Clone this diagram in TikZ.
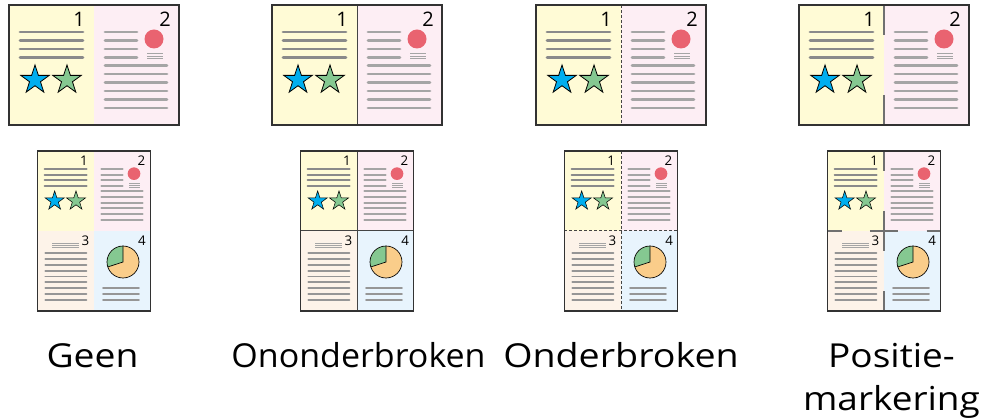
\documentclass[tikz,border=0pt]{standalone}
\usepackage{fontspec}
\setmainfont{Open Sans}
\definecolor{pyel}{RGB}{255,251,214}
\definecolor{ppink}{RGB}{253,238,244}
\definecolor{ppeach}{RGB}{253,243,233}
\definecolor{pblue}{RGB}{232,244,253}
\definecolor{dline}{RGB}{138,138,138}
\definecolor{lline}{RGB}{165,165,165}
\definecolor{mline}{RGB}{150,150,150}
\definecolor{cred}{RGB}{233,99,112}
\definecolor{cblue}{RGB}{0,174,239}
\definecolor{cgreen}{RGB}{133,200,145}
\definecolor{corange}{RGB}{250,205,138}
\definecolor{cborder}{RGB}{50,50,50}
\definecolor{csplit}{RGB}{68,68,68}
\definecolor{cmark}{RGB}{112,112,112}
\tikzset{
  numtext/.style={anchor=base east, inner sep=0pt, transform shape, font=\fontsize{20}{24}\selectfont},
  lbltext/.style={anchor=base, inner sep=0pt, font=\fontsize{33}{40}\selectfont},
  sheetborder/.style={draw=cborder, line width=1.5pt},
  solidsplit/.style={draw=csplit, line width=1pt},
  dashsplit/.style={draw=csplit, line width=1pt, dash pattern=on 3pt off 2pt},
  marksplit/.style={draw=cmark, line width=2pt}
}
\newcommand\starshape[4]{%
  \begin{scope}[shift={(#1,#2)}]
    \draw[fill=#3, line width={#4*0.8pt}, line join=miter]
      (-90:15) -- (-54:5.73) -- (-18:15) -- (18:5.73) -- (54:15) -- (90:5.73)
      -- (126:15) -- (162:5.73) -- (198:15) -- (234:5.73) -- cycle;
  \end{scope}}
\newcommand\pgA[2]{%
  \fill[pyel] (0,0) rectangle (85,120);
  \foreach \yy in {27,35.5,44,52.5}{\draw[dline,line cap=round,line width={#2*2.8pt}] (11,\yy) -- (74,\yy);}
  \starshape{26}{75}{cblue}{#2}
  \starshape{58}{75}{cgreen}{#2}
  \node[numtext] (#1n) at (76,22) {1};}
\newcommand\pgB[2]{%
  \fill[ppink] (0,0) rectangle (85,120);
  \foreach \yy in {27,35.5,44,52.5}{\draw[lline,line cap=round,line width={#2*2.8pt}] (11,\yy) -- (43,\yy);}
  \fill[cred] (60,34) circle[radius=9.5];
  \foreach \yy in {48.8,51.3,53.8}{\draw[lline,line width={#2*0.9pt}] (53,\yy) -- (69,\yy);}
  \foreach \yy in {60.5,69,77.5,86,94.5,103}{\draw[lline,line cap=round,line width={#2*2.8pt}] (11,\yy) -- (73,\yy);}
  \node[numtext] (#1n) at (77,22) {2};}
\newcommand\pgC[2]{%
  \fill[ppeach] (0,0) rectangle (85,120);
  \foreach \yy in {19,22,25}{\draw[lline,line width={#2*1.2pt}] (22,\yy) -- (63,\yy);}
  \foreach \yy in {33,41.8,50.6,59.4,68.2,77,85.8,94.6,103.4}{\draw[mline,line cap=round,line width={#2*2.8pt}] (12,\yy) -- (73.5,\yy);}
  \node[numtext] (#1n) at (78,22) {3};}
\newcommand\pgD[2]{%
  \fill[pblue] (0,0) rectangle (85,120);
  \begin{scope}[shift={(43.5,46.5)}]
    \fill[corange] (0,0) circle[radius=24];
    \fill[cgreen] (0,0) -- (-90:24) arc[start angle=-90,end angle=-198,radius=24] -- cycle;
    \draw[line width={#2*1pt}] (-90:24) -- (0,0) -- (-198:24);
    \draw[line width={#2*1pt}] (0,0) circle[radius=24];
  \end{scope}
  \foreach \yy in {85.5,94.5,103}{\draw[mline,line cap=round,line width={#2*2.8pt}] (13.5,\yy) -- (67.5,\yy);}
  \node[numtext] (#1n) at (78,22) {4};}
\newcommand\sheetpair[2]{%
  \begin{scope}[shift={(#1-85,5)}]\pgA{#2tA}{1}\end{scope}
  \begin{scope}[shift={(#1,5)}]\pgB{#2tB}{1}\end{scope}
  \begin{scope}[shift={(#1-56.667,151)},scale=0.66667]\pgA{#2bA}{0.66667}\end{scope}
  \begin{scope}[shift={(#1,151)},scale=0.66667]\pgB{#2bB}{0.66667}\end{scope}
  \begin{scope}[shift={(#1-56.667,231)},scale=0.66667]\pgC{#2bC}{0.66667}\end{scope}
  \begin{scope}[shift={(#1,231)},scale=0.66667]\pgD{#2bD}{0.66667}\end{scope}}
\begin{document}
\begin{tikzpicture}[x=1pt,y=-1pt]
\useasboundingbox (0,0) rectangle (981,419);
\fill[white] (0,0) rectangle (981,419);
% sheets
\sheetpair{94}{s1}
\sheetpair{357}{s2}
\sheetpair{621}{s3}
\sheetpair{884}{s4}
% split lines
\draw[solidsplit] (357,5) -- (357,125);
\draw[solidsplit] (357,151) -- (357,311);
\draw[solidsplit] (300.333,231) -- (413.667,231);
\draw[dashsplit] (621,5) -- (621,125);
\draw[dashsplit] (621,151) -- (621,311);
\draw[dashsplit] (564.333,231) -- (677.667,231);
\draw[marksplit] (884,5) -- (884,35);
\draw[marksplit] (884,95) -- (884,125);
\draw[marksplit] (884,151) -- (884,171);
\draw[marksplit] (884,211) -- (884,251);
\draw[marksplit] (884,291) -- (884,311);
\draw[marksplit] (827.333,231) -- (841.5,231);
\draw[marksplit] (869.8,231) -- (898.2,231);
\draw[marksplit] (926.5,231) -- (940.667,231);
% borders
\foreach \cx in {94,357,621,884}{
  \draw[sheetborder] (\cx-85,5) rectangle (\cx+85,125);
  \draw[sheetborder] (\cx-56.667,151) rectangle (\cx+56.667,311);
}
% labels
\node[lbltext] (l1) at (92.5,367) {\scalebox{1.13}[1]{Geen}};
\node[lbltext] (l2) at (358.5,367) {\scalebox{1.03}[1]{Ononderbroken}};
\node[lbltext] (l3) at (621,367) {\scalebox{1.14}[1]{Onderbroken}};
\node[lbltext] (l4a) at (891.5,367) {\scalebox{1.12}[1]{Positie-}};
\node[lbltext] (l4b) at (891.5,410) {\scalebox{1.12}[1]{markering}};
\end{tikzpicture}
\end{document}
